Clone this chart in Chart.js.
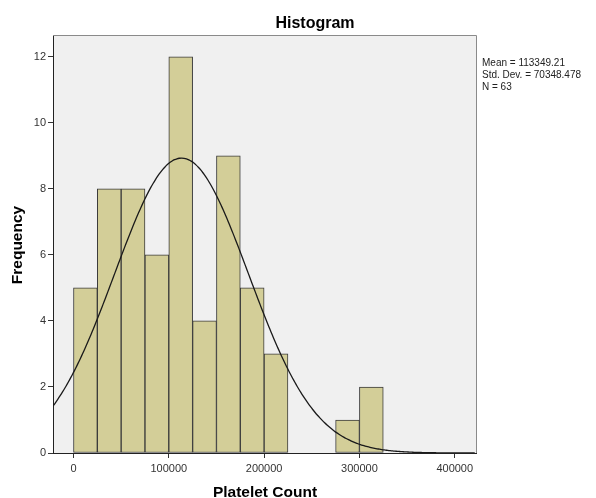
<!DOCTYPE html>
<html>
<head>
<meta charset="utf-8">
<script src="https://cdn.jsdelivr.net/npm/chart.js@4.4.1/dist/chart.umd.min.js"></script>
<style>
  html, body { margin: 0; padding: 0; background: #fff; }
  #wrap { width: 596px; height: 498px; }
</style>
</head>
<body>
<div id="wrap"><canvas id="chart" width="596" height="498"></canvas></div>
<script>
// histogram bins (lower edge) and counts
const binStarts = [0, 25000, 50000, 75000, 100000, 125000, 150000, 175000, 200000, 275000, 300000];
const binCounts = [5, 8, 8, 6, 12, 4, 9, 5, 3, 1, 2];
const binWidth = 25000;

const xTicks = [0, 100000, 200000, 300000, 400000];
const yTicks = [0, 2, 4, 6, 8, 10, 12];

const mean = 113349.21;
const stdDev = 70348.478;
const n = 63;
const statsLines = ["Mean = 113349.21", "Std. Dev. = 70348.478", "N = 63"];

const xMin = -21500, xMax = 422300;
const yMax = 12.66;

// fitted normal curve, scaled to counts per bin
const curve = [];
for (let x = xMin; x <= xMax; x += 2500) {
    const z = (x - mean) / stdDev;
    curve.push({ x: x, y: n * binWidth / (stdDev * Math.sqrt(2 * Math.PI)) * Math.exp(-0.5 * z * z) });
}

const font = "'Liberation Sans', Arial, sans-serif";

/* plot background, frame and free text */
const decor = {
    id: "decor",
    beforeDraw(c) {
        const { ctx, chartArea: a } = c;
        ctx.save();
        ctx.fillStyle = "#f0f0f0";
        ctx.fillRect(a.left, a.top, a.right - a.left, a.bottom - a.top);
        ctx.restore();
    },
    afterDraw(c) {
        const { ctx, chartArea: a } = c;
        ctx.save();
        ctx.strokeStyle = "#8a8a8a";
        ctx.lineWidth = 1;
        ctx.beginPath();
        ctx.moveTo(a.left, a.top + 0.5);
        ctx.lineTo(a.right + 0.5, a.top + 0.5);
        ctx.lineTo(a.right + 0.5, a.bottom);
        ctx.stroke();

        ctx.fillStyle = "#000";
        ctx.font = "bold 16px " + font;
        ctx.textAlign = "center";
        ctx.textBaseline = "alphabetic";
        ctx.fillText("Histogram", 315, 28);

        ctx.font = "bold 15.5px " + font;
        ctx.fillText("Platelet Count", 265, 497);

        ctx.save();
        ctx.translate(22, 245);
        ctx.rotate(-Math.PI / 2);
        ctx.fillText("Frequency", 0, 0);
        ctx.restore();

        ctx.font = "10px " + font;
        ctx.textAlign = "left";
        ctx.fillStyle = "#222";
        statsLines.forEach((s, i) => ctx.fillText(s, 482, 66 + i * 12));
        ctx.restore();
    }
};

new Chart(document.getElementById("chart"), {
    type: "bar",
    data: {
        datasets: [
            {
                type: "line",
                data: curve,
                borderColor: "#1a1a1a",
                borderWidth: 1.3,
                pointRadius: 0,
                tension: 0.3,
                fill: false,
                order: 0
            },
            {
                data: binStarts.map((s, i) => ({ x: s + binWidth / 2, y: binCounts[i] })),
                backgroundColor: "#d3ce98",
                borderColor: "#3a3a3a",
                borderWidth: 1,
                borderSkipped: false,
                barPercentage: 1,
                categoryPercentage: 1,
                order: 1
            }
        ]
    },
    options: {
        responsive: false,
        animation: false,
        layout: { padding: { left: 0, top: 35, right: 120, bottom: 0 } },
        plugins: { legend: { display: false }, tooltip: { enabled: false } },
        scales: {
            x: {
                type: "linear",
                min: xMin,
                max: xMax,
                offset: false,
                afterBuildTicks: s => { s.ticks = xTicks.map(v => ({ value: v })); },
                afterFit: s => { s.height = 45; },
                grid: { offset: false, drawOnChartArea: false, drawTicks: true, tickLength: 5, color: "#333" },
                border: { color: "#222", width: 1 },
                ticks: { font: { family: font, size: 11 }, color: "#333", padding: 4, maxRotation: 0, autoSkip: false,
                         callback: v => String(v) }
            },
            y: {
                min: 0,
                max: yMax,
                afterBuildTicks: s => { s.ticks = yTicks.map(v => ({ value: v })); },
                afterFit: s => { s.width = 53; },
                grid: { drawOnChartArea: false, drawTicks: true, tickLength: 5, color: "#333" },
                border: { color: "#222", width: 1 },
                ticks: { font: { family: font, size: 11 }, color: "#333", padding: 2, callback: v => String(v) }
            }
        }
    },
    plugins: [decor]
});
</script>
</body>
</html>
